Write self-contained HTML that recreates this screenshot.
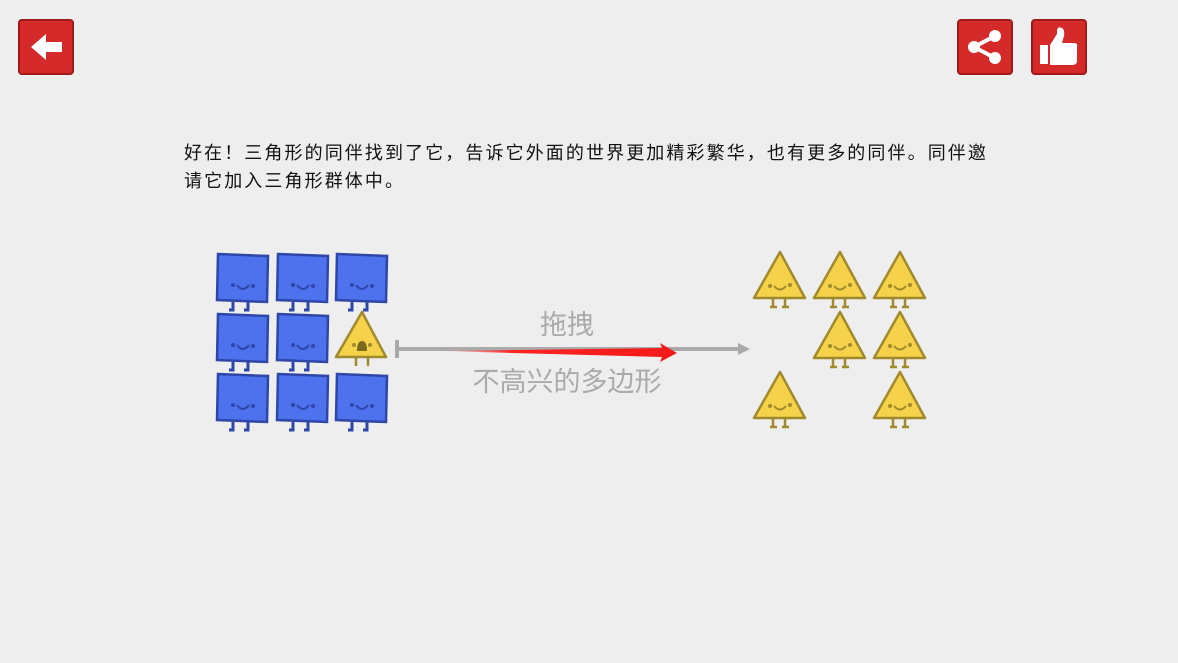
<!DOCTYPE html>
<html><head><meta charset="utf-8"><style>
html,body{margin:0;padding:0;width:1178px;height:663px;overflow:hidden;background:#eeeeee;}
.p{position:absolute;left:184px;top:139px;font:18px "Liberation Sans","Noto Sans CJK SC",sans-serif;color:#111;line-height:28px;letter-spacing:2.1px;white-space:nowrap;}
svg{position:absolute;left:0;top:0;}
</style></head><body>
<div class="p">好在！三角形的同伴找到了它，告诉它外面的世界更加精彩繁华，也有更多的同伴。同伴邀<br>请它加入三角形群体中。</div>
<svg width="1178" height="663" viewBox="0 0 1178 663">
<defs>
<g id="sq">
<path d="M0 0 L50 2 L49 48 L-1 46 Z" fill="#4e72ee" stroke="#2d46a8" stroke-width="2.5"/>
<circle cx="15" cy="31" r="2" fill="#2d46a8"/><circle cx="35" cy="32" r="2" fill="#2d46a8"/>
<path d="M19 31 Q25 39 31 31" fill="none" stroke="#2d46a8" stroke-width="2"/>
<path d="M15 48 V56 H11 M30 48 V56 H26" fill="none" stroke="#2d46a8" stroke-width="3"/>
</g>
<g id="tr">
<path d="M0 0 L25 46 L-26 46 Z" fill="#f5d24a" stroke="#a08a2c" stroke-width="2.5" stroke-linejoin="round"/>
<circle cx="-10" cy="34" r="2" fill="#a08a2c"/><circle cx="10" cy="33" r="2" fill="#a08a2c"/>
<path d="M-6 34 Q0 41 6 34" fill="none" stroke="#a08a2c" stroke-width="2"/>
<path d="M-7 46 V55 M5 46 V55 M-10 55 H-3 M2 55 H9" fill="none" stroke="#a08a2c" stroke-width="2.5"/>
</g>
</defs>
<rect x="19" y="20" width="54" height="54" rx="3" fill="#d42a2a" stroke="#9e1a1a" stroke-width="2"/>
<path d="M31 47 L46 34 V42 H62 V52 H46 V60 Z" fill="#fff"/>
<rect x="958" y="20" width="54" height="54" rx="3" fill="#d42a2a" stroke="#9e1a1a" stroke-width="2"/>
<path d="M995 36 L974 47 L995 58" fill="none" stroke="#fff" stroke-width="4"/>
<circle cx="995" cy="36" r="6" fill="#fff"/><circle cx="974" cy="47" r="6" fill="#fff"/><circle cx="995" cy="58" r="6" fill="#fff"/>
<rect x="1032" y="20" width="54" height="54" rx="3" fill="#d42a2a" stroke="#9e1a1a" stroke-width="2"/>
<rect x="1040" y="45" width="8" height="19" fill="#fff"/>
<path d="M1050 45 L1057 34 V30 Q1058 26 1062 28 Q1065 30 1064 36 L1062 43 H1074 Q1078 43 1077 47 V62 Q1076 65 1072 65 H1050 Z" fill="#fff"/>
<use href="#sq" x="218" y="254"/><use href="#sq" x="278" y="254"/><use href="#sq" x="337" y="254"/>
<use href="#sq" x="218" y="314"/><use href="#sq" x="278" y="314"/>
<use href="#sq" x="218" y="374"/><use href="#sq" x="278" y="374"/><use href="#sq" x="337" y="374"/>
<path d="M362 312 L386 357 L336 357 Z" fill="#f5d24a" stroke="#a08a2c" stroke-width="2.5" stroke-linejoin="round"/>
<circle cx="354" cy="345" r="2" fill="#a08a2c"/><circle cx="370" cy="345" r="2" fill="#a08a2c"/>
<path d="M357 351 Q357 341 362 341 Q367 341 367 351 Z" fill="#7a6a20"/>
<path d="M356 357 V366 M368 357 V366" stroke="#a08a2c" stroke-width="2.5"/>
<use href="#tr" x="780" y="252"/><use href="#tr" x="840" y="252"/><use href="#tr" x="900" y="252"/>
<use href="#tr" x="840" y="312"/><use href="#tr" x="900" y="312"/>
<use href="#tr" x="780" y="372"/><use href="#tr" x="900" y="372"/>
<rect x="395" y="340" width="4" height="18" fill="#aaa"/>
<rect x="395" y="347" width="345" height="4" fill="#aaa"/>
<path d="M738 343 L750 349 L738 355 Z" fill="#aaa"/>
<defs><linearGradient id="rg" x1="0" x2="1"><stop offset="0" stop-color="#ff2020" stop-opacity="0"/><stop offset="0.3" stop-color="#f22" stop-opacity="1"/><stop offset="1" stop-color="#f41a1a"/></linearGradient></defs>
<path d="M440 351 L662 348 L660 343 L677 353 L660 362 L662 357 Z" fill="url(#rg)"/>
<text x="567" y="334" text-anchor="middle" font-family="Liberation Sans,Noto Sans CJK SC,sans-serif" font-size="27" fill="#aaa">拖拽</text>
<text x="567" y="391" text-anchor="middle" font-family="Liberation Sans,Noto Sans CJK SC,sans-serif" font-size="27" fill="#aaa">不高兴的多边形</text>
</svg>
</body></html>
